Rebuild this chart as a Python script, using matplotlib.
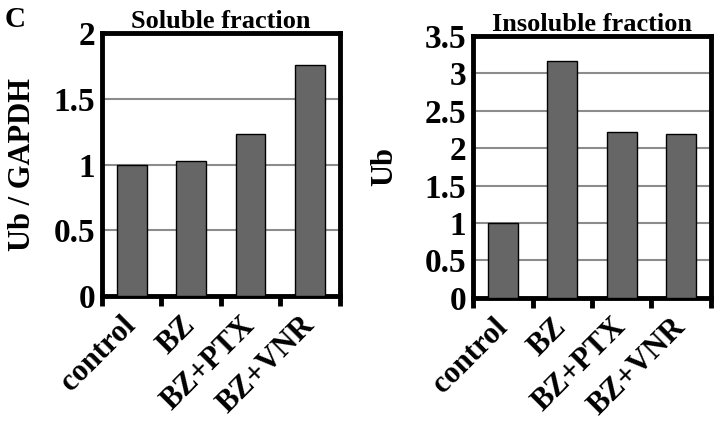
import matplotlib.pyplot as plt
import numpy as np

# data
groups = ['control', 'BZ', 'BZ+PTX', 'BZ+VNR']
soluble = [1.0, 1.03, 1.23, 1.76]
insoluble = [1.0, 3.17, 2.22, 2.19]

plt.rcParams['font.family'] = 'Liberation Serif'
plt.rcParams['font.weight'] = 'bold'

fig = plt.figure(figsize=(7.18, 4.23), dpi=100)
ax1 = fig.add_axes([0.142, 0.300, 0.331, 0.622])
ax2 = fig.add_axes([0.659, 0.296, 0.331, 0.619])

def draw_panel(ax, values, ymax, title, ylabel, label_x):
    x = np.arange(len(groups))
    ax.bar(x, values, width=0.5, color='#666666', edgecolor='black',
           linewidth=1, zorder=3)
    ax.set_xlim(-0.5, len(groups) - 0.5)
    ax.set_ylim(0, ymax)
    ax.set_yticks(np.arange(0, ymax + 0.01, 0.5))
    ax.set_yticklabels(['%g' % v for v in np.arange(0, ymax + 0.01, 0.5)])
    ax.yaxis.grid(True, color='#8c8c8c', linewidth=1.5, zorder=0)
    ax.tick_params(axis='y', length=0, pad=5, labelsize=24)
    # ticks between the categories
    ax.set_xticks(np.arange(-0.5, len(groups), 1.0))
    ax.set_xticklabels([])
    ax.tick_params(axis='x', direction='out', length=7, width=3.5)
    ax.set_xticks(x, minor=True)
    ax.set_xticklabels(groups, minor=True, rotation=45, ha='right',
                       va='center', rotation_mode='anchor', fontsize=22,
                       fontweight='bold')
    ax.tick_params(axis='x', which='minor', length=0, pad=18)
    for s in ax.spines.values():
        s.set_linewidth(3.5)
    ax.set_title(title, fontsize=19, fontweight='bold', pad=3)
    ax.set_ylabel(ylabel, fontsize=22, fontweight='bold')
    ax.yaxis.set_label_coords(label_x, 0.5)

draw_panel(ax1, soluble, 2, 'Soluble fraction', 'Ub / GAPDH', -0.272)
draw_panel(ax2, insoluble, 3.5, 'Insoluble fraction', 'Ub', -0.31)

fig.text(0.006, 0.985, 'C', fontsize=21, fontweight='bold', va='top', ha='left')

fig.savefig('out.png', dpi=100)
